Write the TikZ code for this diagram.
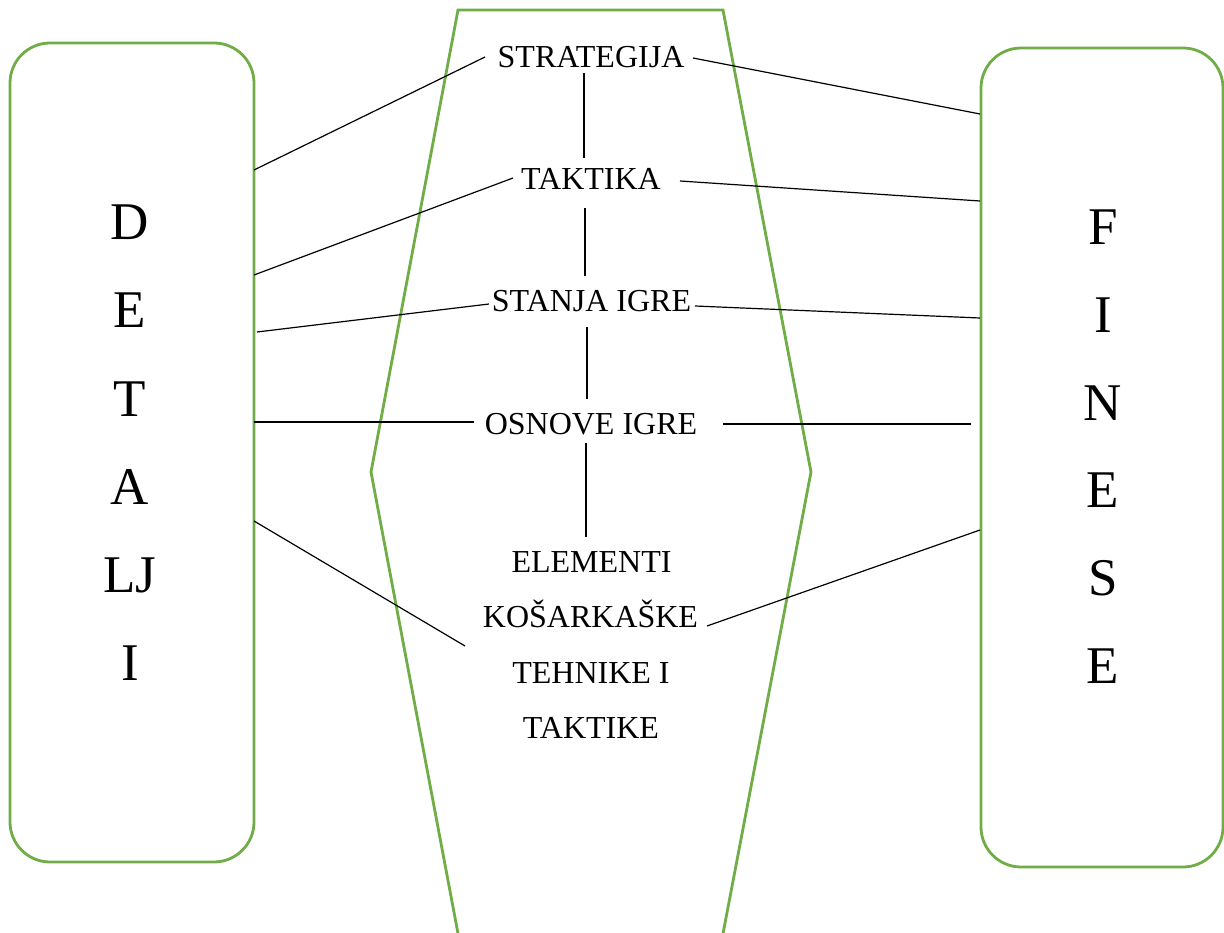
\documentclass[tikz,border=0pt]{standalone}
\usepackage{fontspec}
\setmainfont{Liberation Serif}
\definecolor{grn}{HTML}{70AD47}
\begin{document}
\begin{tikzpicture}[x=1pt,y=-1pt,
  greenbox/.style={draw=grn,line width=2.8pt,rounded corners=40pt,inner sep=0pt},
  greenline/.style={draw=grn,line width=2.8pt},
  conn/.style={draw=black,line width=1.2pt},
  lbl/.style={font=\fontsize{32}{36}\selectfont,inner sep=0pt,anchor=base},
  big/.style={font=\fontsize{53}{60}\selectfont,inner sep=0pt,anchor=base}]
\useasboundingbox (0,0) rectangle (1224,933);
% side boxes
\node[greenbox,minimum width=244pt,minimum height=819pt] (detalji) at (132,452.5) {};
\node[greenbox,minimum width=242pt,minimum height=819pt] (finese) at (1102,457.5) {};
% central shape
\draw[greenline] (459.6,942) -- (371,472) -- (458,10) -- (723,10) -- (811,472) -- (721.4,942);
% letters
\node[big] (d1) at (130,240) {D};
\node[big] (d2) at (130,328) {E};
\node[big] (d3) at (130,416) {T};
\node[big] (d4) at (130,504) {A};
\node[big] (d5) at (130,592) {LJ};
\node[big] (d6) at (130,680) {I};
\node[big] (f1) at (1103,245) {F};
\node[big] (f2) at (1103,333) {I};
\node[big] (f3) at (1103,420) {N};
\node[big] (f4) at (1103,507) {E};
\node[big] (f5) at (1103,595) {S};
\node[big] (f6) at (1103,683) {E};
% central labels
\node[lbl] (strat) at (591,68) {STRATEGIJA};
\node[lbl] (takt) at (591,190) {TAKTIKA};
\node[lbl] (stanja) at (591.5,312) {STANJA IGRE};
\node[lbl] (osnove) at (591,434) {OSNOVE IGRE};
\node[lbl] (el1) at (591.5,572) {ELEMENTI};
\node[lbl] (el2) at (590.5,627) {KOŠARKAŠKE};
\node[lbl] (el3) at (591,683) {TEHNIKE I};
\node[lbl] (el4) at (591,738) {TAKTIKE};
% connector end points
\coordinate (sL) at (485,57);   \coordinate (sR) at (693,58);
\coordinate (tL) at (513,178);  \coordinate (tR) at (680,181);
\coordinate (gL) at (489,304);  \coordinate (gR) at (695,306);
\coordinate (oL) at (474,422);  \coordinate (oR) at (723,424);
\coordinate (eL) at (465,646);  \coordinate (eR) at (707,626);
\coordinate (dA) at (254,170);  \coordinate (dB) at (254,275);
\coordinate (dC) at (257,332);  \coordinate (dD) at (254,422);
\coordinate (dE) at (254,521);
\coordinate (fA) at (980,114);  \coordinate (fB) at (980,201);
\coordinate (fC) at (980,318);  \coordinate (fD) at (971,424);
\coordinate (fE) at (980,530);
\coordinate (v1a) at (584,73);  \coordinate (v1b) at (584,158);
\coordinate (v2a) at (585,208); \coordinate (v2b) at (585,276);
\coordinate (v3a) at (587,327); \coordinate (v3b) at (587,399);
\coordinate (v4a) at (586,443); \coordinate (v4b) at (586,537);
% connectors
\draw[conn] (dA) -- (sL);  \draw[conn] (sR) -- (fA);
\draw[conn] (dB) -- (tL);  \draw[conn] (tR) -- (fB);
\draw[conn] (dC) -- (gL);  \draw[conn] (gR) -- (fC);
\draw[conn] (dD) -- (oL);  \draw[conn] (oR) -- (fD);
\draw[conn] (dE) -- (eL);  \draw[conn] (eR) -- (fE);
\draw[conn] (v1a) -- (v1b);
\draw[conn] (v2a) -- (v2b);
\draw[conn] (v3a) -- (v3b);
\draw[conn] (v4a) -- (v4b);
\end{tikzpicture}
\end{document}
